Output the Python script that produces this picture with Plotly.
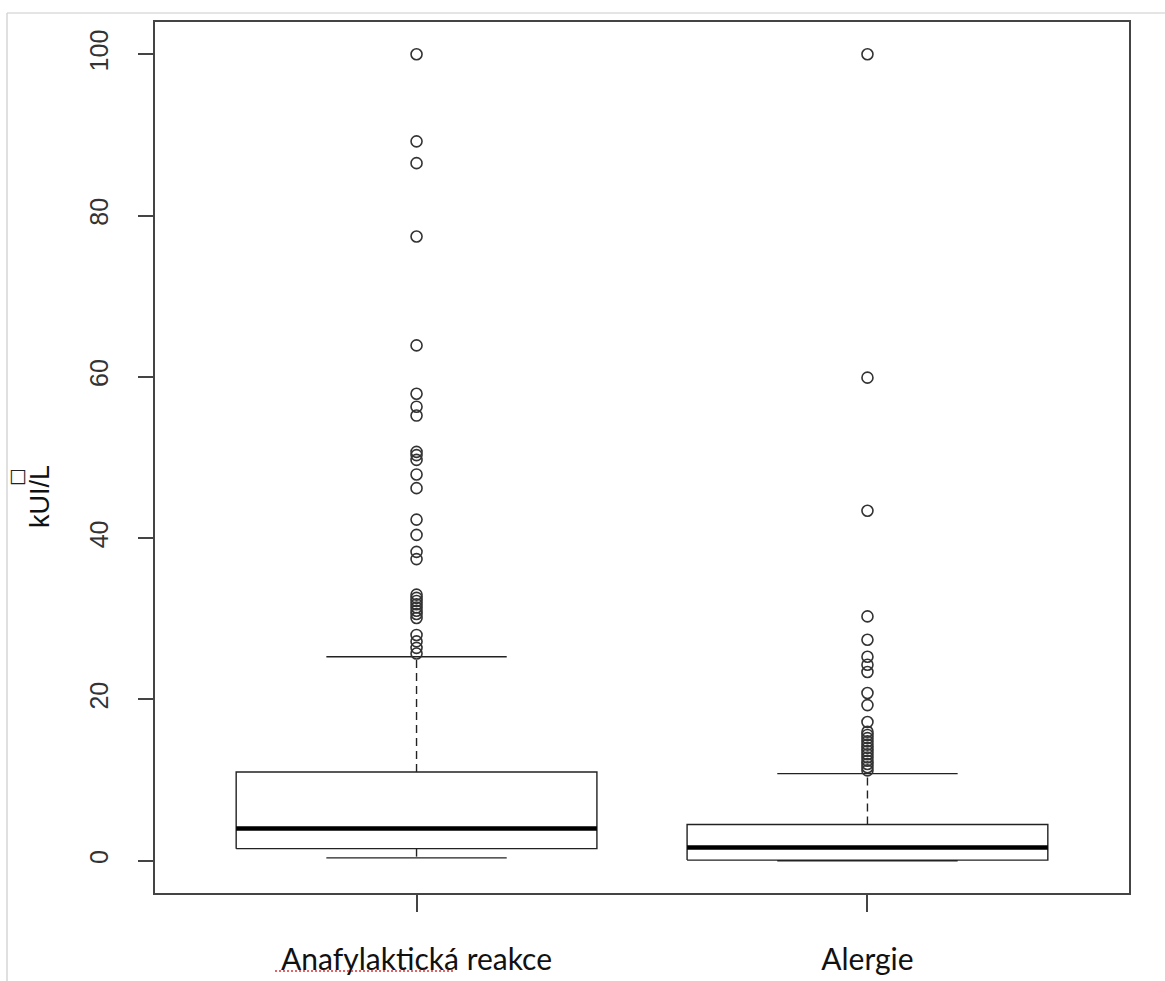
import plotly.graph_objects as go

# ---- data ----
categories = ["Anafylaktická reakce", "Alergie"]
q1 = [1.5, 0.08]
median = [4.0, 1.65]
q3 = [11.0, 4.5]
lower_whisker = [0.35, 0.0]
upper_whisker = [25.3, 10.8]

outliers_anafylakticka = [100.0, 89.2, 86.5, 77.4, 63.9, 57.9, 56.3, 55.2,
                          50.7, 50.3, 49.7, 47.9, 46.2, 42.3, 40.4, 38.3, 37.4,
                          33.0, 32.6, 32.2, 31.8, 31.4, 31.0, 30.6, 30.1,
                          28.0, 27.2, 26.4, 25.7]
outliers_alergie = [100.0, 59.9, 43.4, 30.3, 27.4, 25.3, 24.3, 23.4, 20.8, 19.3,
                    17.2, 16.0, 15.6, 15.2, 14.8, 14.4, 14.0, 13.6, 13.2, 12.8,
                    12.4, 12.0, 11.6, 11.2]
outliers = [outliers_anafylakticka, outliers_alergie]

y_ticks = [0, 20, 40, 60, 80, 100]
y_title = "kUI/L"

# ---- styling ----
BOX_HALF = 0.4
CAP_HALF = 0.2
LINE_COL = "#222222"
AXIS_COL = "#444444"

fig = go.Figure()

for i, cat in enumerate(categories):
    c = i + 1
    # box body
    fig.add_trace(go.Scatter(
        x=[c - BOX_HALF, c + BOX_HALF, c + BOX_HALF, c - BOX_HALF, c - BOX_HALF],
        y=[q1[i], q1[i], q3[i], q3[i], q1[i]],
        mode="lines", line=dict(color=LINE_COL, width=1.4),
        hoverinfo="skip", showlegend=False))
    # median
    fig.add_trace(go.Scatter(
        x=[c - BOX_HALF, c + BOX_HALF], y=[median[i], median[i]],
        mode="lines", line=dict(color="#000000", width=4.5),
        hoverinfo="skip", showlegend=False))
    # whiskers (dashed)
    fig.add_trace(go.Scatter(
        x=[c, c, None, c, c],
        y=[q3[i], upper_whisker[i], None, q1[i], lower_whisker[i]],
        mode="lines", line=dict(color=LINE_COL, width=1.4, dash="8px,5px"),
        hoverinfo="skip", showlegend=False))
    # caps
    fig.add_trace(go.Scatter(
        x=[c - CAP_HALF, c + CAP_HALF, None, c - CAP_HALF, c + CAP_HALF],
        y=[upper_whisker[i], upper_whisker[i], None, lower_whisker[i], lower_whisker[i]],
        mode="lines", line=dict(color=LINE_COL, width=1.4),
        hoverinfo="skip", showlegend=False))
    # outliers
    fig.add_trace(go.Scatter(
        x=[c] * len(outliers[i]), y=outliers[i], mode="markers",
        marker=dict(symbol="circle-open", size=11, color="#333333",
                    line=dict(width=1.6, color="#333333")),
        name=cat, showlegend=False))

W, H = 1165, 981
L, R, T, B = 155, 36, 22, 88

fig.update_layout(
    width=W, height=H,
    margin=dict(l=L, r=R, t=T, b=B),
    paper_bgcolor="white", plot_bgcolor="white",
    showlegend=False,
    xaxis=dict(
        range=[0.42, 2.58], tickmode="array", tickvals=[1, 2], ticktext=categories,
        showgrid=False, zeroline=False, showline=True, mirror=True,
        linecolor=AXIS_COL, linewidth=1.6, automargin=False,
        ticks="outside", ticklen=17, tickwidth=1.6, tickcolor=AXIS_COL,
        tickfont=dict(family="Lato, Open Sans, sans-serif", size=30, color="#111111"),
        ticklabelstandoff=22,
    ),
    yaxis=dict(
        range=[-4, 104], tickmode="array", tickvals=y_ticks,
        ticktext=[str(v) for v in y_ticks],
        showgrid=False, zeroline=False, showline=True, mirror=True,
        linecolor=AXIS_COL, linewidth=1.6, automargin=False,
        ticks="outside", ticklen=15, tickwidth=1.6, tickcolor=AXIS_COL,
        tickangle=-90,
        tickfont=dict(family="Liberation Sans, Arial, sans-serif", size=25, color="#333333"),
        ticklabelstandoff=20,
    ),
)

pw, ph = W - L - R, H - T - B


def px_x(px):
    return (px - L) / pw


def px_y(py):
    return (H - B - py) / ph


# y-axis title (positioned as in the reference, slightly below center)
fig.add_annotation(
    text=y_title, xref="paper", yref="paper",
    x=px_x(40), y=px_y(497),
    xanchor="center", yanchor="middle", textangle=-90, showarrow=False,
    font=dict(family="Liberation Sans, Arial, sans-serif", size=27, color="#111111"))
fig.add_annotation(
    text="□", xref="paper", yref="paper",
    x=px_x(17.5), y=px_y(475),
    xanchor="center", yanchor="middle", showarrow=False,
    font=dict(family="DejaVu Sans, sans-serif", size=19, color="#222222"))

# spell-check squiggle under the first category label
fig.add_shape(type="line", xref="paper", yref="paper",
              x0=px_x(275), x1=px_x(455), y0=px_y(971), y1=px_y(971),
              line=dict(color="#e03030", width=1.5, dash="2px,2px"))

# screenshot frame lines (light gray)
fig.add_shape(type="line", xref="paper", yref="paper",
              x0=px_x(7), x1=px_x(W), y0=px_y(13), y1=px_y(13),
              line=dict(color="#cccccc", width=1.2))
fig.add_shape(type="line", xref="paper", yref="paper",
              x0=px_x(7), x1=px_x(7), y0=px_y(13), y1=px_y(H),
              line=dict(color="#cccccc", width=1.2))

fig.write_html("out.html",
               config={"displayModeBar": False},
               post_script="document.body.style.margin='0';document.body.style.overflow='hidden';")
